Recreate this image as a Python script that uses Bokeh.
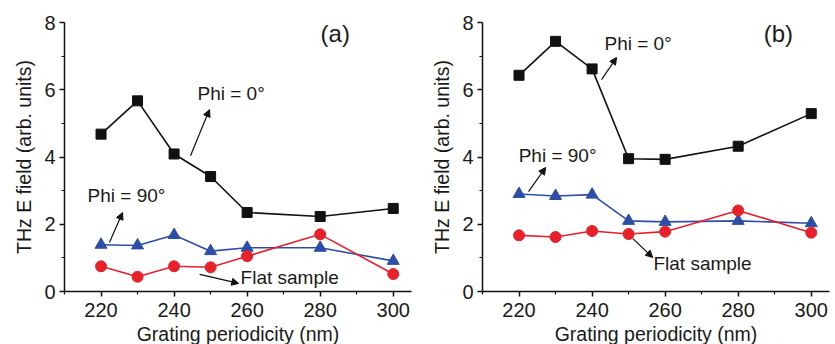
from bokeh.plotting import figure
from bokeh.layouts import row
from bokeh.models import Label, Arrow, NormalHead, FixedTicker
from bokeh.embed import file_html
from bokeh.resources import INLINE

periods = [220, 230, 240, 250, 260, 280, 300]
a_phi0 = [4.68, 5.67, 4.09, 3.42, 2.35, 2.23, 2.47]
a_phi90 = [1.39, 1.37, 1.68, 1.20, 1.30, 1.30, 0.91]
a_flat = [0.75, 0.44, 0.75, 0.72, 1.05, 1.70, 0.52]
b_phi0 = [6.43, 7.44, 6.62, 3.95, 3.93, 4.32, 5.29]
b_phi90 = [2.90, 2.84, 2.88, 2.10, 2.07, 2.10, 2.03]
b_flat = [1.67, 1.62, 1.80, 1.71, 1.78, 2.41, 1.75]
x_ticks = [220, 240, 260, 280, 300]
y_ticks = [0, 2, 4, 6, 8]

FONT = "Liberation Sans"
TXT = "#1a1a1a"
BLACK = "#111111"
BLUE = "#2d4ea8"
RED = "#e8202a"


def make_fig(phi0, phi90, flat, left_border, width, tag, notes):
    p = figure(width=width, height=344, x_range=(210, 305), y_range=(0, 8),
               output_backend="svg", toolbar_location=None,
               min_border_left=left_border, min_border_right=width - left_border - 347,
               min_border_top=22, min_border_bottom=53)
    p.frame_width = 347
    p.frame_height = 269
    p.outline_line_color = None
    p.grid.visible = False
    p.background_fill_color = "white"
    p.border_fill_color = "white"

    p.xaxis.ticker = FixedTicker(ticks=x_ticks, minor_ticks=[210, 230, 250, 270, 290])
    p.yaxis.ticker = FixedTicker(ticks=y_ticks, minor_ticks=[1, 3, 5, 7])
    for ax in (p.xaxis, p.yaxis):
        ax.axis_line_color = BLACK
        ax.axis_line_width = 1.5
        ax.major_tick_line_color = BLACK
        ax.minor_tick_line_color = BLACK
        ax.major_tick_line_width = 1.5
        ax.minor_tick_line_width = 1.2
        ax.major_tick_out = 5
        ax.major_tick_in = 0
        ax.minor_tick_out = 3
        ax.minor_tick_in = 0
        ax.major_label_text_font = FONT
        ax.major_label_text_font_size = "20px"
        ax.major_label_text_color = TXT
        ax.axis_label_text_font = FONT
        ax.axis_label_text_font_size = "19.5px"
        ax.axis_label_text_font_style = "normal"
        ax.axis_label_text_color = TXT
    p.xaxis.axis_label = "Grating periodicity (nm)"
    p.yaxis.axis_label = "THz E field (arb. units)"
    p.xaxis.major_label_standoff = 6
    p.xaxis.axis_label_standoff = 3
    p.yaxis.major_label_standoff = 4
    p.yaxis.axis_label_standoff = 6

    p.line(periods, phi0, color=BLACK, line_width=1.6)
    p.scatter(periods, phi0, marker="square", size=10, color=BLACK)
    p.line(periods, phi90, color=BLUE, line_width=1.6)
    p.scatter(periods, phi90, marker="triangle", size=12, color=BLUE)
    p.line(periods, flat, color=RED, line_width=1.6)
    p.scatter(periods, flat, marker="circle", size=11, color=RED)

    p.add_layout(Label(x=notes["tag"][0], y=notes["tag"][1], text=tag,
                       text_font=FONT, text_font_size="24px", text_color=TXT,
                       text_baseline="middle"))
    for key, txt in (("p0", "Phi = 0°"), ("p90", "Phi = 90°"), ("flat", "Flat sample")):
        tx, ty, x0, y0, x1, y1 = notes[key]
        p.add_layout(Label(x=tx, y=ty, text=txt, text_font=FONT, text_font_size="19px",
                           text_color=TXT, text_baseline="middle"))
        p.add_layout(Arrow(x_start=x0, y_start=y0, x_end=x1, y_end=y1,
                           line_color=BLACK, line_width=1.2,
                           end=NormalHead(size=7, fill_color=BLACK, line_color=BLACK)))
    return p


notes_a = {
    "tag": (280.1, 7.67),
    "p0": (246.4, 5.89, 244.5, 4.04, 249.7, 5.41),
    "p90": (216.3, 2.86, 222.3, 1.46, 225.9, 2.35),
    "flat": (258.2, 0.42, 247.0, 0.51, 257.7, 0.24),
}
notes_b = {
    "tag": (287.0, 7.67),
    "p0": (243.4, 7.38, 242.6, 6.30, 246.7, 6.96),
    "p90": (219.9, 4.04, 222.6, 2.97, 227.3, 3.69),
    "flat": (256.8, 0.83, 251.1, 1.58, 256.6, 1.01),
}

pa = make_fig(a_phi0, a_phi90, a_flat, 64, 417, "(a)", notes_a)
pb = make_fig(b_phi0, b_phi90, b_flat, 65, 418, "(b)", notes_b)

layout = row(pa, pb, spacing=0)
open("out.html", "w").write(file_html(layout, INLINE))
